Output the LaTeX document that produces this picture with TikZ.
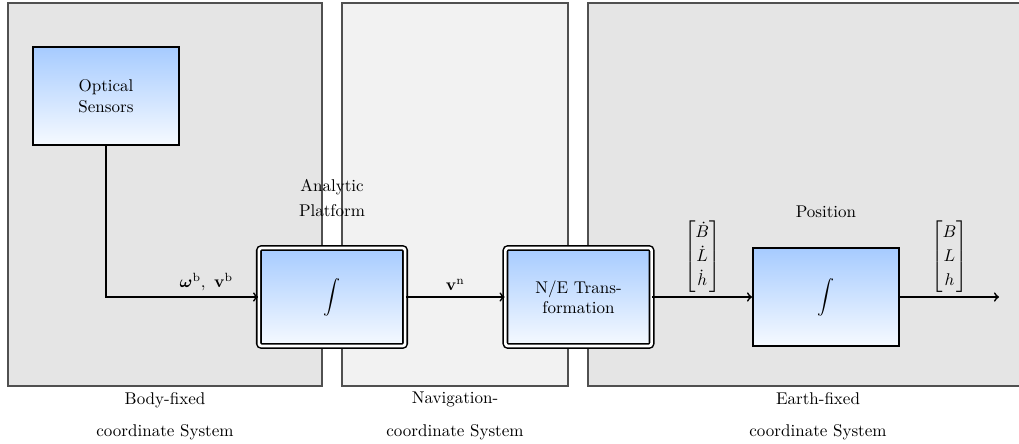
\documentclass[tikz,border=0pt]{standalone}
\usepackage{amsmath}
\usetikzlibrary{shadings}
\definecolor{boxtop}{RGB}{166,203,255}
\definecolor{boxbot}{RGB}{246,250,255}
\definecolor{regiondark}{RGB}{229,229,229}
\definecolor{regionlight}{RGB}{242,242,242}
\definecolor{regionline}{RGB}{80,80,80}
\tikzset{
  region/.style={draw=regionline, line width=0.6pt},
  blockbox/.style={draw=black, line width=1pt, top color=boxtop, bottom color=boxbot,
    minimum width=86pt, minimum height=57.6pt, align=center, inner sep=2pt},
  dblbox/.style={blockbox, draw=black, double=white, line width=0.9pt, double distance=1.6pt, rounded corners=1.5pt},
  flow/.style={->, >=to, line width=1pt},
  lbl/.style={align=center, inner sep=1pt},
  vec/.style={inner sep=1pt, font=\renewcommand{\arraystretch}{1.18}}
}
\begin{document}
\begin{tikzpicture}[x=0.588pt, y=-0.588pt]
\useasboundingbox (0,0) rectangle (1019,443);
\clip (0,0) rectangle (1019,443);
% regions
\path[region, fill=regiondark] (8,3) rectangle (322,386);
\path[region, fill=regionlight] (342,3) rectangle (568,386);
\path[region, fill=regiondark] (588,3) rectangle (1048,386);
\node[lbl] (lbody) at (165,416) {Body-fixed\\[7pt]coordinate System};
\node[lbl] (lnav) at (455,416) {Navigation-\\[7pt]coordinate System};
\node[lbl] (learth) at (818,416) {Earth-fixed\\[7pt]coordinate System};
% blocks
\node[blockbox] (os) at (106,96) {Optical\\Sensors};
\node[dblbox] (int1) at (332,297) {$\displaystyle\int$};
\node[dblbox] (ne) at (578.5,297) {N/E Trans-\\formation};
\node[blockbox] (int2) at (826,297) {$\displaystyle\int$};
\coordinate (out) at (999,297);
% labels
\node[lbl] (ap) at (332,198) {Analytic\\[3pt]Platform};
\node[lbl] (pos) at (826,212) {Position};
% connectors
\draw[flow] (os.south) |- node[above, pos=0.83] {$\boldsymbol{\omega}^{\mathrm{b}},\ \mathbf{v}^{\mathrm{b}}$} (int1.west);
\draw[flow] (int1.east) -- node[above] {$\mathbf{v}^{\mathrm{n}}$} (ne.west);
\draw[flow] (ne.east) -- node[above=1pt, vec] {$\begin{bmatrix}\dot B\\ \dot L\\ \dot h\end{bmatrix}$} (int2.west);
\draw[flow] (int2.east) -- node[above=1pt, vec] {$\begin{bmatrix}B\\ L\\ h\end{bmatrix}$} (out);
\end{tikzpicture}
\end{document}
